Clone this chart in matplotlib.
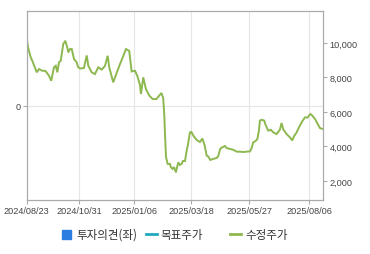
import matplotlib
matplotlib.use('Agg')
import matplotlib.pyplot as plt
from matplotlib.lines import Line2D
from matplotlib.patches import Rectangle

plt.rcParams['font.family'] = ['Liberation Sans', 'Noto Sans CJK KR', 'DejaVu Sans']

# 수정주가 (거래일 인덱스, 가격)
day = [0, 1.1, 3.3, 4.6, 8.3, 10.2, 12.9, 15.5, 18.4, 20.3, 22.5, 24.0, 25.3, 26.7, 28.1,
       30.2, 31.9, 33.5, 34.4, 35.8, 37.2, 39.1, 41.3, 42.4, 44.0, 47.3, 49.6, 50.9, 53.7,
       56.4, 59.1, 62.0, 64.7, 66.9, 68.2, 71.5, 74.3, 77.1, 79.8, 82.0, 84.7, 86.7, 89.5,
       91.4, 93.6, 94.4, 96.3, 98.5, 101.3, 104.1, 107.2, 109.5, 111.3, 112.8, 113.7, 114.2,
       115.1, 116.5, 118.4, 119.2, 120.6, 121.7, 123.3, 125.2, 126.6, 128.0, 129.1, 130.8,
       132.2, 133.2, 134.9, 136.1, 137.6, 140.4, 143.1, 145.2, 147.1, 148.7, 150.0, 151.7,
       154.1, 156.9, 158.3, 159.9, 161.6, 163.8, 165.2, 167.9, 170.7, 173.5, 176.2, 178.9,
       183.0, 184.4, 185.9, 187.2, 189.2, 190.6, 191.9, 192.7, 194.1, 196.3, 197.4, 199.6,
       201.8, 203.7, 206.5, 209.2, 210.6, 212.0, 214.8, 217.5, 219.4, 221.0, 223.0, 225.0,
       227.2, 228.5, 230.0, 232.2, 233.3, 234.5, 235.5, 238.3, 240.5, 242.4, 245.1]
price = [10230, 9750, 9170, 8970, 8300, 8490, 8390, 8380, 8100, 7810, 8590, 8680, 8300, 8880, 8970,
         9940, 10130, 9750, 9460, 9650, 9650, 9070, 8880, 8610, 8520, 8550, 9280, 8680, 8300,
         8200, 8590, 8460, 8670, 9260, 8590, 7720, 8260, 8780, 9250, 9650, 9540, 8350, 8390,
         8090, 7570, 7040, 8010, 7330, 6950, 6750, 6750, 6950, 7100, 6810, 5790, 4840,
         3390, 2990, 2990, 2790, 2700, 2810, 2500, 3080, 2930, 2990, 3160, 3160,
         3760, 4090, 4820, 4840, 4640, 4380, 4260, 4460, 4050, 3470, 3420, 3220,
         3280, 3330, 3450, 3860, 3950, 4030, 3910, 3860, 3810, 3700, 3700, 3680,
         3710, 3710, 3910, 4240, 4320, 4430, 4920, 5500, 5550, 5500, 5250, 4920,
         4970, 4820, 4720, 4970, 5360, 4990, 4720, 4530, 4350, 4610, 4810, 5110,
         5400, 5540, 5690, 5680, 5800, 5880, 5830, 5590, 5300, 5060, 5010]

tick_days = [0, 43.4, 88.9, 135.7, 183.9, 233.4]
tick_labels = ['2024/08/23', '2024/10/31', '2025/01/06', '2025/03/18', '2025/05/27', '2025/08/06']
price_ticks = [2000, 4000, 6000, 8000, 10000]
legend_labels = ['투자의견(좌)', '목표주가', '수정주가']
legend_colors = ['#2b7de1', '#22a8bd', '#8db84f']

fig = plt.figure(figsize=(3.7, 2.55), dpi=100)
ax = fig.add_axes([0.0722, 0.2118, 0.8016, 0.74])
ax2 = ax.twinx()

ax2.plot(day, price, color=legend_colors[2], lw=1.4, solid_joinstyle='miter')
ax2.set_ylim(899, 11838)
ax.set_xlim(0, 245.1)
ax.set_ylim(-1, 1)

ax.set_xticks(tick_days)
ax.set_xticklabels(tick_labels)
ax.set_yticks([0])
ax.set_yticklabels(['0'])
ax2.set_yticks(price_ticks)
ax2.set_yticklabels([f'{v:,}' for v in price_ticks])

ax.grid(True, color='#e6e6e6', lw=0.8)
ax.set_axisbelow(True)

for a in (ax, ax2):
    for s in a.spines.values():
        s.set_color('#aaaaaa')
        s.set_linewidth(0.8)
    a.tick_params(colors='#aaaaaa', labelcolor='#444444', labelsize=6.6,
                  length=3, width=0.8, pad=1.5)

# 범례
ly = 0.077
fig.patches.append(Rectangle((61.7 / 370, ly - 4.5 / 255), 9 / 370, 9 / 255,
                             transform=fig.transFigure, color=legend_colors[0]))
fig.lines.append(Line2D([145.7 / 370, 156.7 / 370], [ly, ly], transform=fig.transFigure,
                        color=legend_colors[1], lw=2))
fig.lines.append(Line2D([230 / 370, 241 / 370], [ly, ly], transform=fig.transFigure,
                        color=legend_colors[2], lw=2))
for x, t in zip([76.5, 160.5, 245], legend_labels):
    fig.text(x / 370, ly, t, fontsize=8.3, color='#333333', va='center',
             family=['Noto Sans CJK KR', 'DejaVu Sans'])

fig.savefig('out.png', dpi=100)
